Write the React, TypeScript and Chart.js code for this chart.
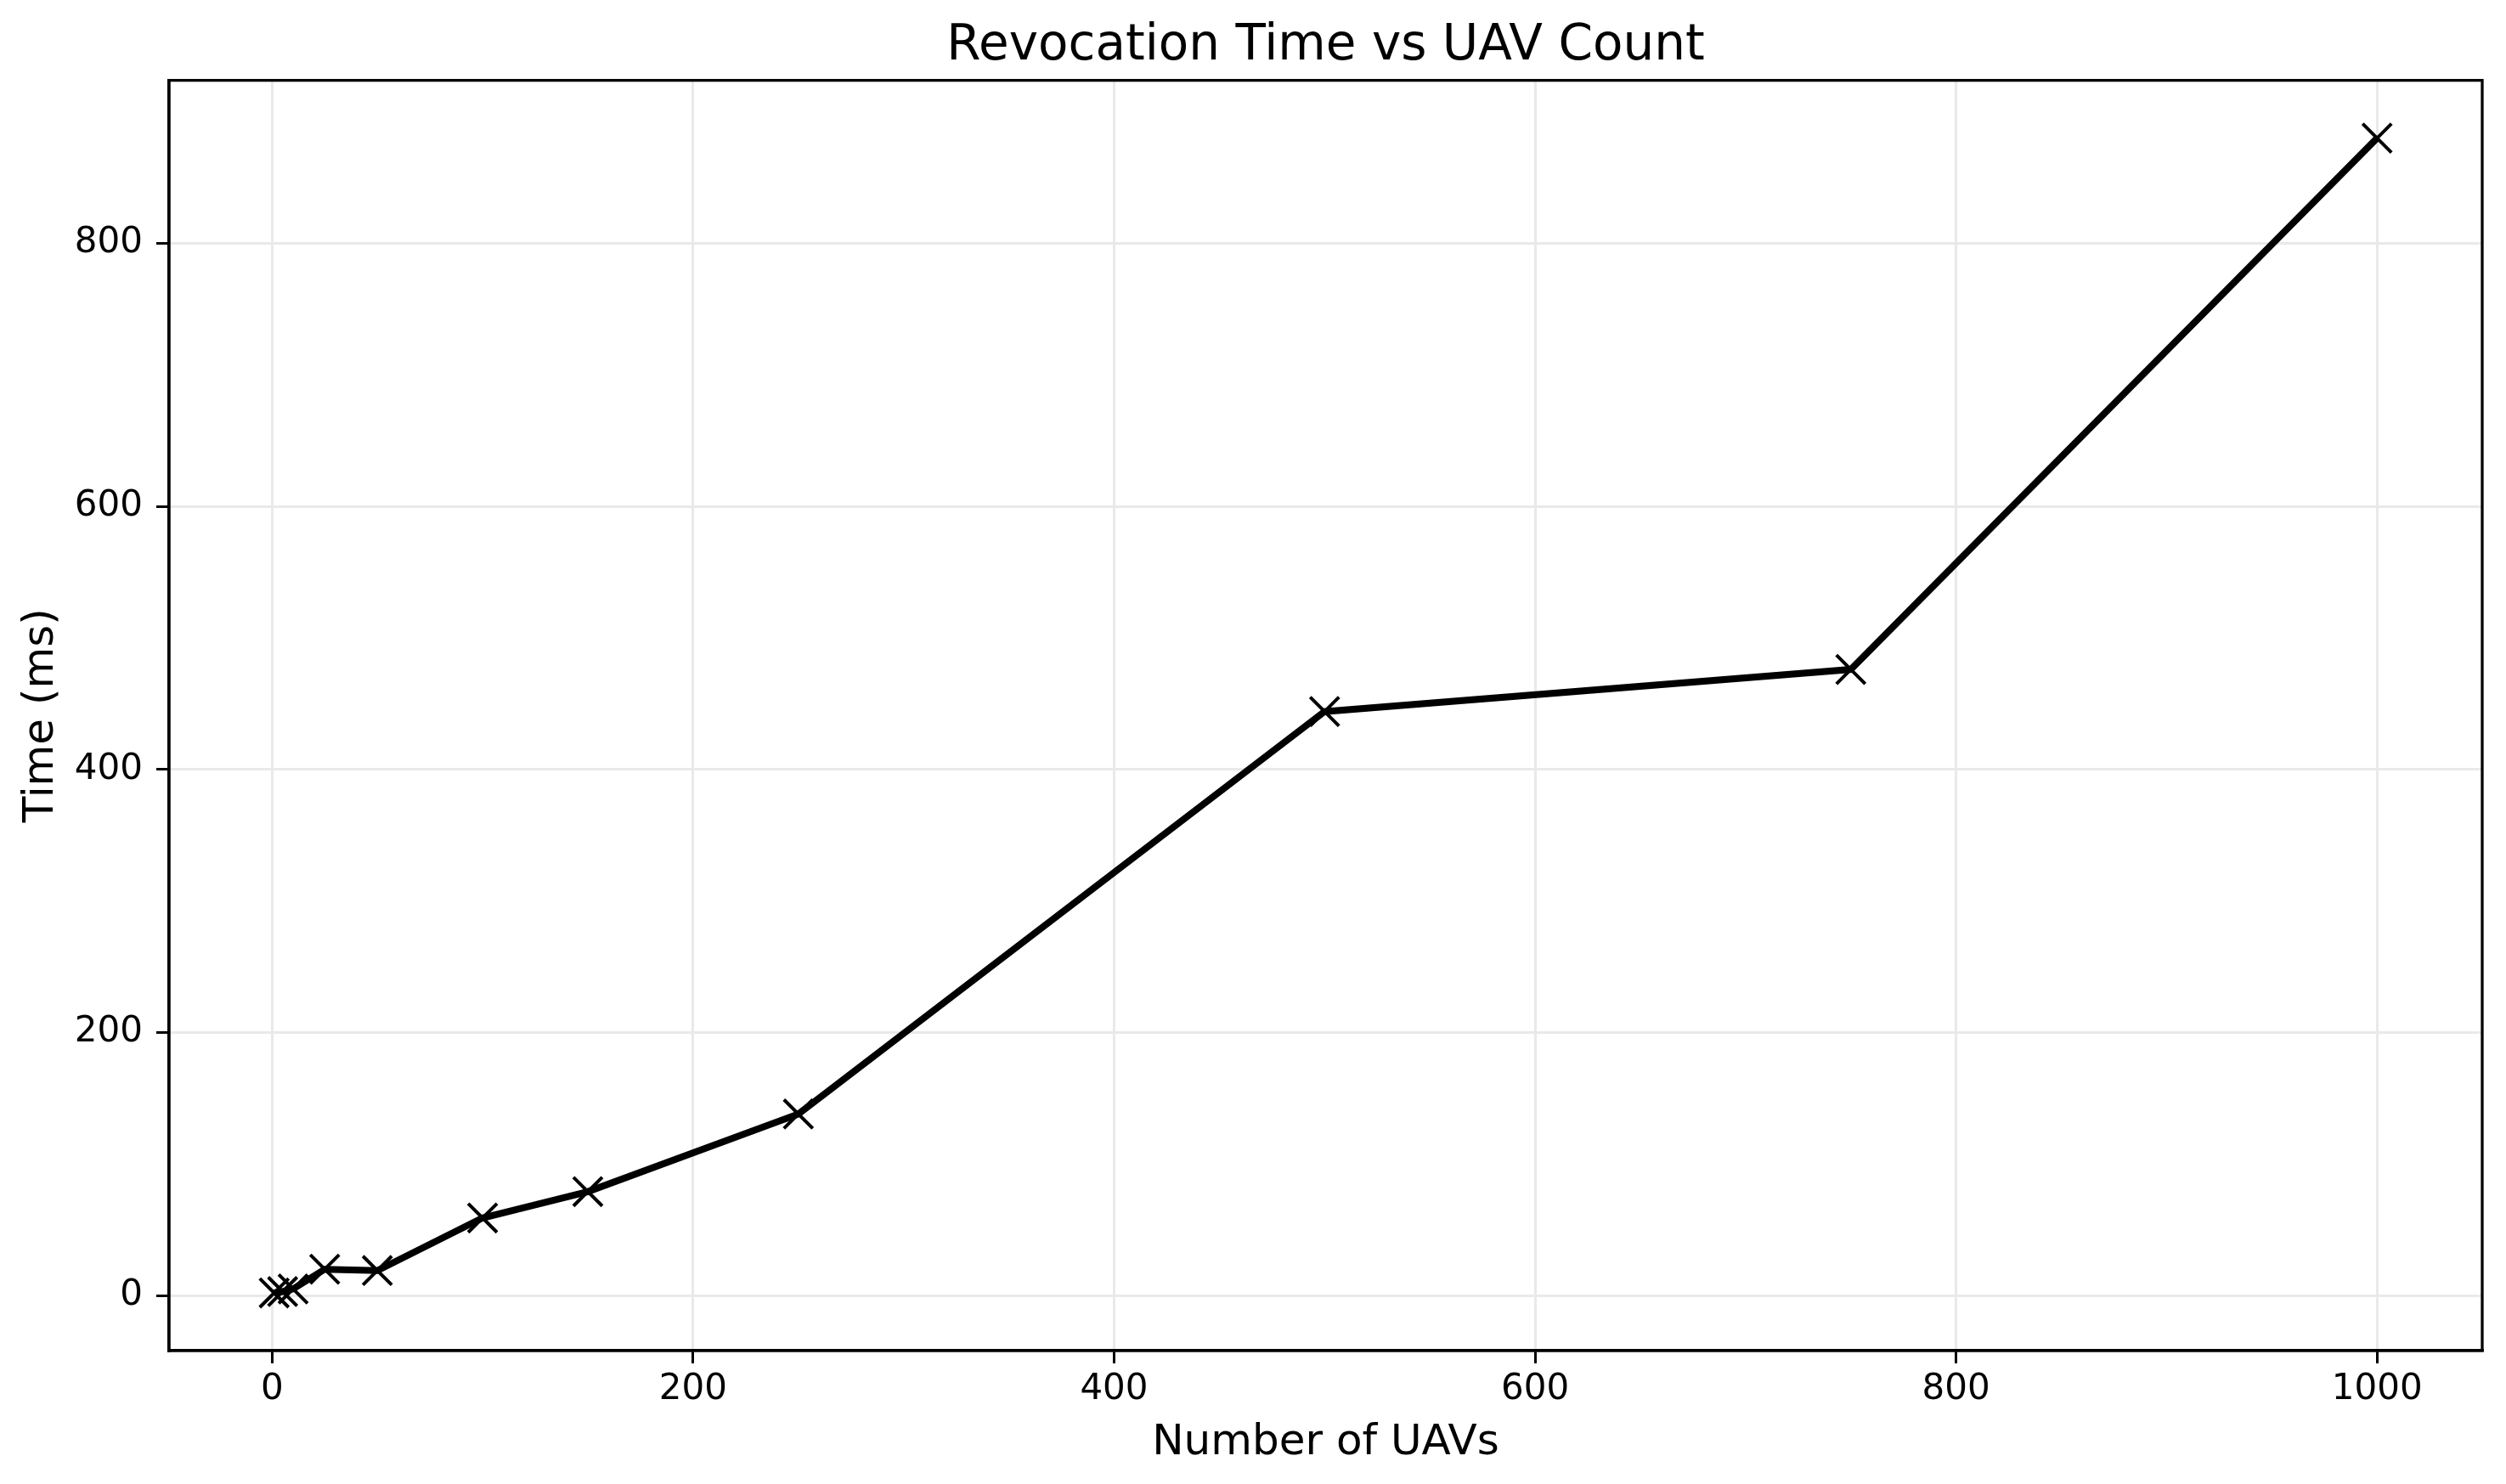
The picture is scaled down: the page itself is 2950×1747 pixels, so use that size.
import React, { useEffect, useRef } from "react";
import { Chart, registerables } from "chart.js";

Chart.register(...registerables);

const uavCounts = [1, 5, 10, 25, 50, 100, 150, 250, 500, 750, 1000];
const revocationMs = [2, 3, 5, 20, 19, 59, 79, 138, 444, 476, 880];
const xTicks = [0, 200, 400, 600, 800, 1000];
const yTicks = [0, 200, 400, 600, 800];

const X_MIN = -48.95;
const X_MAX = 1049.95;
const Y_MIN = -41.9;
const Y_MAX = 923.9;

const W = 2950;
const H = 1747;
const FONT = "'DejaVu Sans', sans-serif";

const frame = {
  id: "frame",
  afterDraw(chart: any) {
    const { ctx, chartArea } = chart;
    ctx.save();
    ctx.strokeStyle = "#000";
    ctx.lineWidth = 3.3;
    ctx.strokeRect(chartArea.left, chartArea.top, chartArea.right - chartArea.left, chartArea.bottom - chartArea.top);
    ctx.restore();
  },
};

const bg = {
  id: "bg",
  beforeDraw(chart: any) {
    const { ctx } = chart;
    ctx.save();
    ctx.fillStyle = "#fff";
    ctx.fillRect(0, 0, chart.width, chart.height);
    ctx.restore();
  },
};

export default function App() {
  const ref = useRef<HTMLCanvasElement | null>(null);
  useEffect(() => {
    if (!ref.current) return;
    const chart = new Chart(ref.current, {
      type: "line",
      data: {
        datasets: [
          {
            label: "Revocation time",
            data: uavCounts.map((x, i) => ({ x, y: revocationMs[i] })),
            borderColor: "#000",
            backgroundColor: "#000",
            borderWidth: 8,
            pointStyle: "crossRot",
            pointRadius: 24,
            pointBorderWidth: 4,
            pointBorderColor: "#000",
            fill: false,
            tension: 0,
          },
        ],
      },
      options: {
        animation: false,
        responsive: false,
        devicePixelRatio: 1,
        layout: { padding: { left: 0, right: 24, top: 0, bottom: 0 } },
        plugins: {
          legend: { display: false },
          tooltip: { enabled: false },
          title: {
            display: true,
            text: "Revocation Time vs UAV Count",
            color: "#000",
            font: { family: FONT, size: 58, weight: "normal" },
            padding: { top: 20, bottom: 5 },
            fullSize: false,
          },
        },
        scales: {
          x: {
            type: "linear",
            min: X_MIN,
            max: X_MAX,
            afterBuildTicks: (s: any) => {
              s.ticks = xTicks.map((v) => ({ value: v }));
            },
            afterFit: (s: any) => {
              s.height = 157;
            },
            ticks: {
              color: "#000",
              font: { family: FONT, size: 42 },
              padding: 6,
              maxRotation: 0,
              autoSkip: false,
              callback: (v: any) => String(v),
            },
            grid: {
              color: "#e9e9e9",
              lineWidth: 3,
              tickColor: "#000",
              tickLength: 15,
              tickWidth: 3,
            },
            border: { display: true, color: "#000", width: 3.3 },
            title: {
              display: true,
              text: "Number of UAVs",
              color: "#000",
              font: { family: FONT, size: 50 },
              padding: { top: 0, bottom: 18 },
            },
          },
          y: {
            type: "linear",
            min: Y_MIN,
            max: Y_MAX,
            afterBuildTicks: (s: any) => {
              s.ticks = yTicks.map((v) => ({ value: v }));
            },
            afterFit: (s: any) => {
              s.width = 199;
            },
            ticks: {
              color: "#000",
              font: { family: FONT, size: 42 },
              padding: 16,
              autoSkip: false,
              callback: (v: any) => String(v),
            },
            grid: {
              color: "#e9e9e9",
              lineWidth: 3,
              tickColor: "#000",
              tickLength: 15,
              tickWidth: 3,
            },
            border: { display: true, color: "#000", width: 3.3 },
            title: {
              display: true,
              text: "Time (ms)",
              color: "#000",
              font: { family: FONT, size: 50 },
              padding: { top: 19, bottom: 0 },
            },
          },
        },
      },
      plugins: [bg, frame],
    } as any);
    return () => chart.destroy();
  }, []);

  return (
    <div style={{ position: "fixed", left: 0, top: 0, width: W, height: H, background: "#fff" }}>
      <canvas ref={ref} width={W} height={H} style={{ width: W, height: H, display: "block" }} />
    </div>
  );
}
